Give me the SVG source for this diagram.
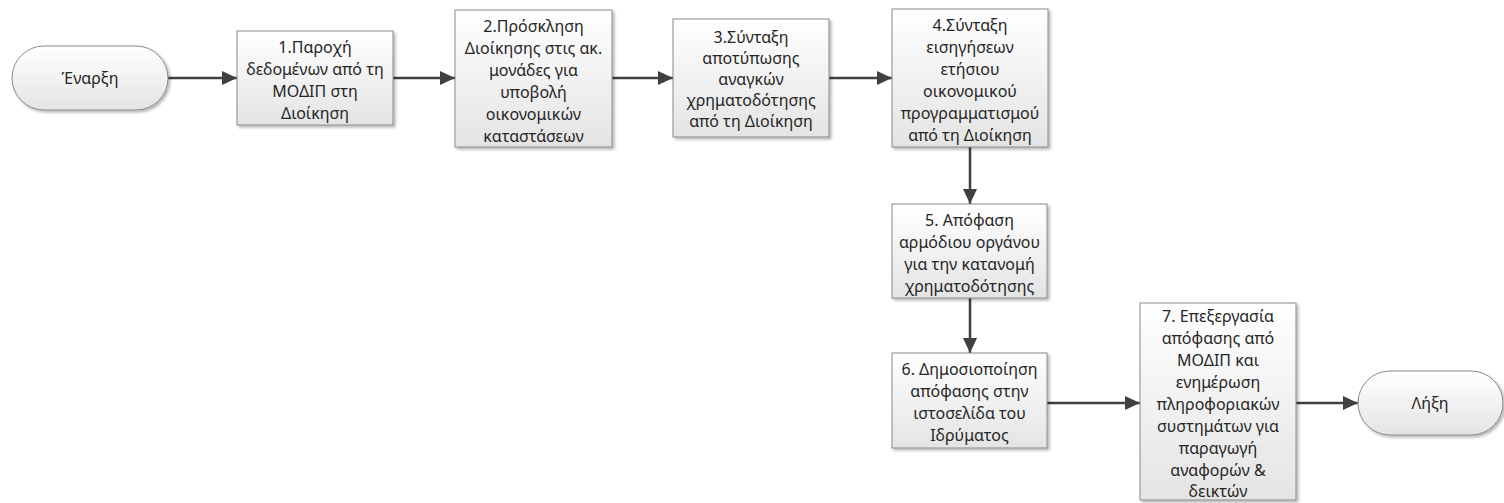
<svg xmlns="http://www.w3.org/2000/svg" width="1504" height="503" viewBox="0 0 1504 503">
<defs>
<linearGradient id="gf" x1="0" y1="0" x2="0" y2="1">
<stop offset="0" stop-color="#ffffff"/>
<stop offset="1" stop-color="#e4e4e4"/>
</linearGradient>
<filter id="sh" x="-10%" y="-10%" width="130%" height="130%">
<feGaussianBlur in="SourceAlpha" stdDeviation="1.5"/>
<feOffset dx="2" dy="2" result="b"/>
<feComponentTransfer><feFuncA type="linear" slope="0.3"/></feComponentTransfer>
<feMerge><feMergeNode/><feMergeNode in="SourceGraphic"/></feMerge>
</filter>
<marker id="ah" markerWidth="15" markerHeight="14" refX="15" refY="7" orient="auto" markerUnits="userSpaceOnUse">
<path d="M0,0 L15,7 L0,14 Z" fill="#404040"/>
</marker>
</defs>
<style>
.box{fill:url(#gf);stroke:#8a8a8a;stroke-width:1;filter:url(#sh)}
.term{fill:url(#gf);stroke:#8a8a8a;stroke-width:1;filter:url(#sh)}
text{font-family:"Noto Sans","DejaVu Sans",sans-serif;font-size:16px;fill:#262626;text-anchor:middle}
.edge{stroke:#404040;stroke-width:2.5;fill:none;marker-end:url(#ah)}
</style>
<rect width="1504" height="503" fill="#ffffff"/>
<g id="connectors">
<line class="edge" x1="168" y1="78" x2="237" y2="78"/>
<line class="edge" x1="393" y1="78" x2="455" y2="78"/>
<line class="edge" x1="612" y1="78" x2="673" y2="78"/>
<line class="edge" x1="829" y1="78" x2="892" y2="78"/>
<line class="edge" x1="970" y1="147" x2="970" y2="204"/>
<line class="edge" x1="970" y1="298" x2="970" y2="353"/>
<line class="edge" x1="1047" y1="403" x2="1140" y2="403"/>
<line class="edge" x1="1296" y1="403" x2="1358" y2="403"/>
</g>
<g id="start">
<rect class="term" x="12" y="46" width="156" height="64" rx="32" ry="32"/>
<text x="90" y="84">Έναρξη</text>
</g>
<g id="n1">
<rect class="box" x="237" y="31" width="156" height="94"/>
<text x="315" y="53">1.Παροχή</text>
<text x="315" y="75">δεδομένων από τη</text>
<text x="315" y="97">ΜΟΔΙΠ στη</text>
<text x="315" y="119">Διοίκηση</text>
</g>
<g id="n2">
<rect class="box" x="455" y="10" width="157" height="137"/>
<text x="533.5" y="31.5">2.Πρόσκληση</text>
<text x="533.5" y="53.5">Διοίκησης στις ακ.</text>
<text x="533.5" y="75.5">μονάδες για</text>
<text x="533.5" y="97.5">υποβολή</text>
<text x="533.5" y="119.5">οικονομικών</text>
<text x="533.5" y="141.5">καταστάσεων</text>
</g>
<g id="n3">
<rect class="box" x="673" y="19" width="156" height="118"/>
<text x="751" y="43">3.Σύνταξη</text>
<text x="751" y="64">αποτύπωσης</text>
<text x="751" y="85">αναγκών</text>
<text x="751" y="106">χρηματοδότησης</text>
<text x="751" y="127">από τη Διοίκηση</text>
</g>
<g id="n4">
<rect class="box" x="892" y="9" width="156" height="138"/>
<text x="970" y="31">4.Σύνταξη</text>
<text x="970" y="53">εισηγήσεων</text>
<text x="970" y="75">ετήσιου</text>
<text x="970" y="97">οικονομικού</text>
<text x="970" y="119">προγραμματισμού</text>
<text x="970" y="141">από τη Διοίκηση</text>
</g>
<g id="n5">
<rect class="box" x="892" y="204" width="155" height="94"/>
<text x="969.5" y="226">5. Απόφαση</text>
<text x="969.5" y="248">αρμόδιου οργάνου</text>
<text x="969.5" y="270">για την κατανομή</text>
<text x="969.5" y="292">χρηματοδότησης</text>
</g>
<g id="n6">
<rect class="box" x="892" y="353" width="155" height="95"/>
<text x="969.5" y="375">6. Δημοσιοποίηση</text>
<text x="969.5" y="397">απόφασης στην</text>
<text x="969.5" y="419">ιστοσελίδα του</text>
<text x="969.5" y="441">Ιδρύματος</text>
</g>
<g id="n7">
<rect class="box" x="1140" y="303" width="156" height="197"/>
<text x="1218" y="322">7. Επεξεργασία</text>
<text x="1218" y="344">απόφασης από</text>
<text x="1218" y="366">ΜΟΔΙΠ και</text>
<text x="1218" y="388">ενημέρωση</text>
<text x="1218" y="410">πληροφοριακών</text>
<text x="1218" y="432">συστημάτων για</text>
<text x="1218" y="454">παραγωγή</text>
<text x="1218" y="476">αναφορών &amp;</text>
<text x="1218" y="497">δεικτών</text>
</g>
<g id="end">
<rect class="term" x="1358" y="371" width="145" height="64" rx="32" ry="32"/>
<text x="1430" y="409">Λήξη</text>
</g>
</svg>
